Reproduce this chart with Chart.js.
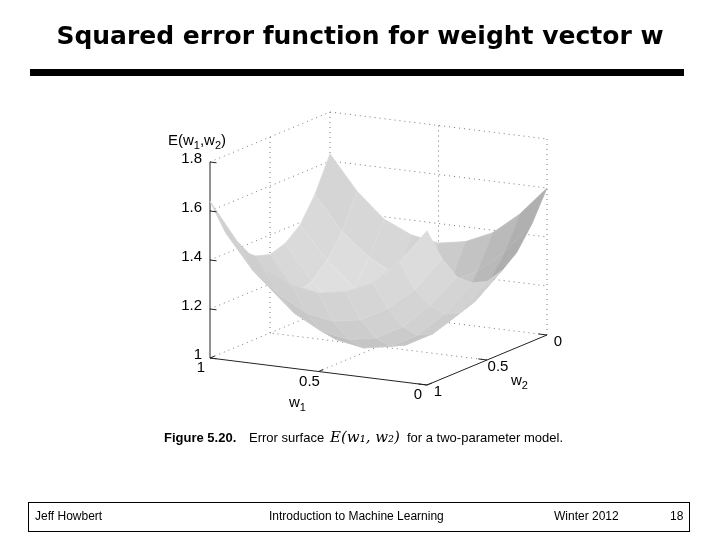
<!DOCTYPE html>
<html><head><meta charset="utf-8">
<script src="https://cdn.jsdelivr.net/npm/chart.js@4.4.1/dist/chart.umd.min.js"></script>
<style>
body{margin:0;width:720px;height:540px;background:#fff;position:relative;overflow:hidden;font-family:"Liberation Sans",Arial,sans-serif}
#c{position:absolute;left:0;top:0}
.t{position:absolute;left:0;width:720px;top:21px;text-align:center;font:bold 25px "DejaVu Sans",sans-serif;color:#000}
.bar{position:absolute;left:30px;width:654px;top:69px;height:7px;background:#000}
.foot{position:absolute;left:28px;top:502px;width:660px;height:28px;border:1px solid #000;font-size:12px}
.foot span{position:absolute;top:6px}
</style></head><body>
<canvas id="c" width="720" height="540"></canvas>
<div class="t">Squared error function for weight vector w</div>
<div class="bar"></div>
<div class="foot"><span style="left:6px">Jeff Howbert</span><span style="left:240px">Introduction to Machine Learning</span><span style="left:525px">Winter 2012</span><span style="left:641px">18</span></div>
<script>
// grid axes: w1 rows, w2 columns
const w1Values=[0,0.125,0.25,0.375,0.5,0.625,0.75,0.875,1];
const w2Values=[0,0.125,0.25,0.375,0.5,0.625,0.75,0.875,1];
const errorValues=[
[1.60,1.48,1.39,1.34,1.32,1.34,1.39,1.49,1.63],
[1.48,1.35,1.26,1.20,1.18,1.20,1.26,1.35,1.49],
[1.39,1.26,1.16,1.10,1.08,1.10,1.16,1.26,1.39],
[1.34,1.20,1.10,1.04,1.02,1.04,1.10,1.20,1.34],
[1.32,1.18,1.08,1.02,1.00,1.02,1.08,1.18,1.32],
[1.34,1.20,1.10,1.04,1.02,1.04,1.10,1.20,1.34],
[1.39,1.26,1.16,1.10,1.08,1.10,1.16,1.26,1.39],
[1.49,1.35,1.26,1.20,1.18,1.20,1.26,1.35,1.49],
[1.63,1.49,1.39,1.34,1.32,1.34,1.39,1.49,1.64]];
const zTicks=[1,1.2,1.4,1.6,1.8];
const wTicks=[0,0.5,1];
const zMin=1,zMax=1.8;

function proj(w1,w2,z){return [427-217*w1+120*(1-w2), 385-27*w1-50*(1-w2)-245*(z-1)];}

const surf={id:'surf',afterDatasetsDraw(ch){
 const c=ch.ctx,xs=ch.scales.x,ys=ch.scales.y;
 const P=(a,b,z)=>{const p=proj(a,b,z);return [xs.getPixelForValue(p[0]),ys.getPixelForValue(p[1])];};
 const line=(pts,col,w,dash)=>{c.beginPath();pts.forEach((p,i)=>{const q=P(...p);i?c.lineTo(q[0],q[1]):c.moveTo(q[0],q[1]);});c.strokeStyle=col;c.lineWidth=w;c.setLineDash(dash||[]);c.stroke();c.setLineDash([]);};
 c.save();
 const g='#777',D=[1,4];
 line([[0.5,0,zMin],[0.5,1,zMin]],g,1,D);line([[0,0.5,zMin],[1,0.5,zMin]],g,1,D);
 line([[1,1,zMin],[1,0,zMin],[0,0,zMin]],g,1,D);
 zTicks.forEach(z=>{if(z>zMin)line([[1,1,z],[1,0,z],[0,0,z]],g,1,D);});
 [[1,0.5],[1,0],[0.5,0],[0,0]].forEach(p=>line([[p[0],p[1],zMin],[p[0],p[1],zMax]],g,1,D));
 const k='#222';
 line([[1,1,zMin],[0,1,zMin],[0,0,zMin]],k,1);
 line([[1,1,zMin],[1,1,zMax]],k,1);
 const quads=[];
 let L=[-0.4,0.3,1];const ll=Math.hypot(...L);L=L.map(x=>x/ll);
 for(let i=0;i<8;i++)for(let j=0;j<8;j++){
  const a=w1Values[i],b=w1Values[i+1],u=w2Values[j],v=w2Values[j+1];
  const z=errorValues;
  const dz1=((z[i+1][j]+z[i+1][j+1])-(z[i][j]+z[i][j+1]))/2/(b-a)*1.2;
  const dz2=((z[i][j+1]+z[i+1][j+1])-(z[i][j]+z[i+1][j]))/2/(v-u)*1.2;
  let n=[-dz1,-dz2,1];const nl=Math.hypot(...n);n=n.map(x=>x/nl);
  const d=Math.abs(n[0]*L[0]+n[1]*L[1]+n[2]*L[2]);
  const pts=[[a,u,z[i][j]],[b,u,z[i+1][j]],[b,v,z[i+1][j+1]],[a,v,z[i][j+1]]];
  const sp=pts.map(p=>proj(...p));let ar=0;for(let m=0;m<4;m++){const p=sp[m],q=sp[(m+1)%4];ar+=p[0]*q[1]-q[0]*p[1];}
  const sh=ar<0?Math.round(140+90*d):Math.round(170+50*(1-d)+12*((a+b)/2));
  quads.push({depth:(a+b)/2+(1-(u+v)/2),pts,sh});
 }
 quads.sort((p,q)=>q.depth-p.depth);
 quads.forEach(q=>{c.beginPath();q.pts.forEach((p,i)=>{const r=P(...p);i?c.lineTo(r[0],r[1]):c.moveTo(r[0],r[1]);});c.closePath();
  const col=`rgb(${q.sh},${q.sh},${q.sh})`;c.fillStyle=col;c.fill();c.strokeStyle=`rgb(${q.sh+5},${q.sh+5},${q.sh+5})`;c.lineWidth=0.8;c.stroke();});
 c.fillStyle='#000';c.font='15px "Liberation Sans",Arial';
 c.textAlign='right';c.textBaseline='middle';
 zTicks.forEach(z=>{const p=P(1,1,z);c.fillText(String(z),p[0]-8,p[1]-3);line([[1,1,z],[0.97,1,z]],k,1);});
 wTicks.forEach(t=>{line([[t,1,zMin],[t,0.96,zMin]],k,1);line([[0,t,zMin],[0.04,t,zMin]],k,1);});
 c.textAlign='center';
 wTicks.forEach(t=>{const p=P(t,1,zMin);c.fillText(String(t),p[0]-9,p[1]+10);
   const q=P(0,t,zMin);c.fillText(String(t),q[0]+11,q[1]+7);});
 c.textAlign='left';c.textBaseline='alphabetic';
 const sub=(x,y,m,s)=>{c.font='15px "Liberation Sans"';c.fillText(m,x,y);const w=c.measureText(m).width;c.font='11px "Liberation Sans"';c.fillText(s,x+w,y+4);return x+w+c.measureText(s).width;};
 {const p=P(1,1,zMax);let x=p[0]-42,y=p[1]-17;x=sub(x,y,'E(w','1');x=sub(x,y,',w','2');c.font='15px "Liberation Sans"';c.fillText(')',x,y);}
 sub(289,407,'w','1');
 sub(511,385,'w','2');
 c.font='bold 13px "Liberation Sans"';c.fillText('Figure 5.20.',164,442);
 c.font='13px "Liberation Sans"';c.fillText('Error surface',249,442);
 c.font='italic 15px "DejaVu Serif"';c.fillText('E(w₁, w₂)',330,442);
 c.font='13px "Liberation Sans"';c.fillText('for a two-parameter model.',407,442);
 c.restore();
}};
new Chart(document.getElementById('c'),{type:'scatter',data:{datasets:[{data:[]}]},
 options:{responsive:false,animation:false,layout:{padding:0},plugins:{legend:{display:false},tooltip:{enabled:false}},
 scales:{x:{type:'linear',min:0,max:720,display:false},y:{type:'linear',min:0,max:540,reverse:true,display:false}}},
 plugins:[surf]});
</script></body></html>
